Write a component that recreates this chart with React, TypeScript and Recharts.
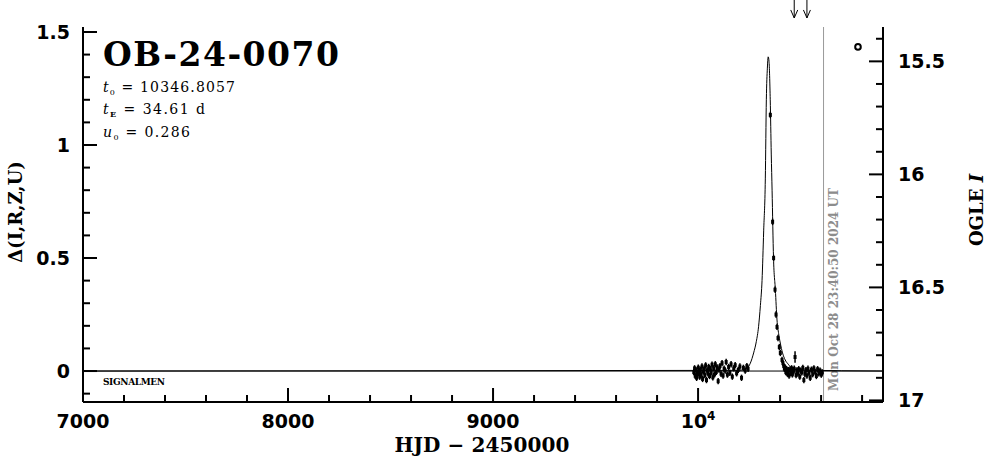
import React from "react";
import {
  ComposedChart,
  Line,
  Scatter,
  XAxis,
  YAxis,
  ErrorBar,
  ReferenceLine,
  ReferenceDot,
  Customized,
} from "recharts";

// axis ticks
const xTicks = [7000, 7200, 7400, 7600, 7800, 8000, 8200, 8400, 8600, 8800, 9000, 9200, 9400, 9600, 9800, 10000, 10200, 10400, 10600, 10800];
const xMajor = [7000, 8000, 9000, 10000];
const deltaTicks = [-0.1, 0, 0.1, 0.2, 0.3, 0.4, 0.5, 0.6, 0.7, 0.8, 0.9, 1, 1.1, 1.2, 1.3, 1.4, 1.5];
const deltaMajor = [0, 0.5, 1, 1.5];
const magTicks = [15.4, 15.5, 15.6, 15.7, 15.8, 15.9, 16, 16.1, 16.2, 16.3, 16.4, 16.5, 16.6, 16.7, 16.8, 16.9, 17];
const magMajor = [15.5, 16, 16.5, 17];

// model light curve
const modelDays = [7000, 10200, 10239, 10255, 10271, 10284, 10295, 10304, 10312, 10320, 10328, 10333, 10338, 10342, 10346, 10352, 10357, 10361, 10368, 10377, 10385, 10393, 10401, 10412, 10425, 10440, 10458, 10500, 10902];
const modelDelta = [0, 0.003, 0.013, 0.035, 0.08, 0.13, 0.196, 0.29, 0.4, 0.62, 0.85, 1.2, 1.34, 1.39, 1.37, 1.2, 0.96, 0.8, 0.5, 0.36, 0.226, 0.165, 0.124, 0.08, 0.049, 0.03, 0.013, 0.004, 0];

// observations: pre-event baseline
const preDays = [9979, 9983, 9986, 9990, 9993, 9997, 10001, 10004, 10008, 10011, 10015, 10019, 10022, 10026, 10030, 10033, 10037, 10041, 10044, 10048, 10052, 10056, 10060, 10064, 10068, 10072, 10076, 10080, 10084, 10089, 10093, 10098, 10102, 10107, 10112, 10117, 10122, 10127, 10132, 10137, 10143, 10149, 10155, 10161, 10167, 10174, 10181, 10188, 10196, 10204, 10212, 10221, 10230, 10238, 10244];
const preDelta = [-0.005, 0.012, -0.021, 0.004, -0.03, -0.012, 0.015, -0.008, -0.025, 0.006, -0.015, 0.02, -0.035, -0.002, 0.01, -0.018, 0.025, -0.04, 0.003, -0.01, 0.018, -0.022, 0.008, -0.006, 0.028, -0.028, 0.012, -0.015, 0.03, -0.004, 0.016, -0.045, 0.006, 0.022, -0.012, 0.035, -0.02, 0.01, 0.002, 0.04, -0.016, 0.018, -0.008, 0.03, -0.025, 0.012, 0.026, -0.01, 0.005, 0.02, -0.03, 0.014, 0.002, 0.022, 0.01];

// observations: falling branch
const fallDays = [10352.4, 10363.6, 10368.5, 10375.3, 10380.2, 10385, 10389.9, 10396.3, 10401.2, 10409.5];
const fallDelta = [1.133, 0.66, 0.5, 0.36, 0.25, 0.195, 0.146, 0.106, 0.08, 0.049];

// observations: post-event baseline
const postDays = [10414, 10418, 10421, 10425, 10428, 10432, 10436, 10440, 10444, 10448, 10452, 10456, 10460, 10465, 10469, 10473, 10478, 10482, 10487, 10491, 10496, 10501, 10506, 10511, 10516, 10521, 10526, 10531, 10536, 10541, 10547, 10553, 10559, 10565, 10571, 10577, 10583, 10589, 10595, 10601, 10606];
const postDelta = [0.035, 0.022, 0.01, 0.015, -0.005, 0.008, -0.012, 0.004, -0.02, 0.006, -0.008, 0.012, -0.015, -0.002, 0.01, 0.062, -0.018, 0.003, -0.01, 0.008, -0.025, 0.002, -0.006, 0.014, -0.04, -0.012, 0.004, -0.02, 0.01, -0.008, -0.03, 0.006, -0.014, 0.012, -0.004, -0.022, 0.008, -0.01, 0.002, -0.016, -0.006];
const postErr = postDelta.map((_, i) => (i === 15 ? 0.025 : 0.014));

const ogleDay = [10780];
const ogleMag = [15.436];
const arrowDays = [10469, 10531];
const nowDay = 10612;

const modelData = modelDays.map((d, i) => ({ d, v: modelDelta[i] }));
const obsData = [
  ...preDays.map((d, i) => ({ d, v: preDelta[i], err: 0.014 })),
  ...fallDays.map((d, i) => ({ d, v: fallDelta[i], err: 0.014 })),
  ...postDays.map((d, i) => ({ d, v: postDelta[i], err: postErr[i] })),
];
const ogleData = ogleDay.map((d, i) => ({ d, m: ogleMag[i] }));

const numFont = "'DejaVu Sans', sans-serif";
const serif = "'DejaVu Serif', serif";

const isMajor = (v: number, list: number[]) => list.some((m) => Math.abs(m - v) < 1e-6);

function BottomTick({ x, y, payload }: any) {
  const v = payload.value;
  const major = isMajor(v, xMajor);
  return (
    <g>
      <line x1={x} x2={x} y1={y} y2={y - (major ? 14 : 7)} stroke="#000" strokeWidth={2} />
      {major && (
        <text x={x} y={y + 26} textAnchor="middle" fontFamily={numFont} fontWeight="bold" fontSize={19} fill="#000">
          {v === 10000 ? (
            <>
              <tspan>10</tspan>
              <tspan fontSize={12} dy={-8}>4</tspan>
            </>
          ) : (
            v
          )}
        </text>
      )}
    </g>
  );
}

function TopTick({ x, y, payload }: any) {
  const major = isMajor(payload.value, xMajor);
  return <line x1={x} x2={x} y1={y} y2={y + (major ? 14 : 7)} stroke="#000" strokeWidth={2} />;
}

function LeftTick({ x, y, payload }: any) {
  const v = payload.value;
  const major = isMajor(v, deltaMajor);
  return (
    <g>
      <line x1={x} x2={x + (major ? 14 : 7)} y1={y} y2={y} stroke="#000" strokeWidth={2} />
      {major && (
        <text x={x - 13} y={y + 7} textAnchor="end" fontFamily={numFont} fontWeight="bold" fontSize={19} fill="#000">
          {v}
        </text>
      )}
    </g>
  );
}

function RightTick({ x, y, payload }: any) {
  const v = payload.value;
  const major = isMajor(v, magMajor);
  return (
    <g>
      <line x1={x} x2={x - (major ? 14 : 7)} y1={y} y2={y} stroke="#000" strokeWidth={2} />
      {major && (
        <text x={x + 15} y={y + 7} textAnchor="start" fontFamily={numFont} fontWeight="bold" fontSize={19} fill="#000">
          {v}
        </text>
      )}
    </g>
  );
}

const Arrow = ({ cx, cy }: any) => (
  <g>
    <line x1={cx} x2={cx} y1={cy - 18} y2={cy} stroke="#000" strokeWidth={1} />
    <polyline points={`${cx - 3.5},${cy - 8} ${cx},${cy} ${cx + 3.5},${cy - 8}`} fill="none" stroke="#000" strokeWidth={1} />
  </g>
);

const Texts = () => (
  <g>
    <text x={103} y={66} fontFamily={serif} fontWeight="bold" fontSize={33} textLength={236} lengthAdjust="spacing">
      OB-24-0070
    </text>
    <text x={103} y={92} fontFamily={serif} fontSize={14} textLength={132} lengthAdjust="spacing">
      <tspan fontStyle="italic">t</tspan>
      <tspan fontSize={8} dy={3}>0</tspan>
      <tspan dy={-3}> = 10346.8057</tspan>
    </text>
    <text x={103} y={114} fontFamily={serif} fontSize={14} textLength={102} lengthAdjust="spacing">
      <tspan fontStyle="italic">t</tspan>
      <tspan fontSize={8} dy={3} fontWeight="bold">E</tspan>
      <tspan dy={-3}> = 34.61 d</tspan>
    </text>
    <text x={103} y={137} fontFamily={serif} fontSize={14} textLength={87} lengthAdjust="spacing">
      <tspan fontStyle="italic">u</tspan>
      <tspan fontSize={8} dy={3}>0</tspan>
      <tspan dy={-3}> = 0.286</tspan>
    </text>
    <text x={103} y={385} fontFamily={serif} fontWeight="bold" fontSize={9} textLength={62} lengthAdjust="spacing">
      SIGNALMEN
    </text>
    <text
      transform="translate(838, 391) rotate(-90)"
      fontFamily={serif}
      fontWeight="bold"
      fontSize={12}
      fill="#8c8c8c"
      textLength={203}
      lengthAdjust="spacing"
    >
      Mon Oct 28 23:40:50 2024 UT
    </text>
    <text x={482} y={452} textAnchor="middle" fontFamily={serif} fontWeight="bold" fontSize={20} textLength={175} lengthAdjust="spacing">
      HJD − 2450000
    </text>
    <text transform="translate(22, 212) rotate(-90)" textAnchor="middle" fontFamily={serif} fontWeight="bold" fontSize={18}>
      Δ(I,R,Z,U)
    </text>
    <text transform="translate(983, 210) rotate(-90)" textAnchor="middle" fontFamily={serif} fontWeight="bold" fontSize={18}>
      OGLE <tspan fontStyle="italic">I</tspan>
    </text>
  </g>
);

export default function App() {
  return (
    <div style={{ position: "absolute", left: 0, top: 0, width: 986, height: 459, background: "#fff" }}>
      <ComposedChart width={986} height={459} margin={{ top: 27, right: 0, bottom: 0, left: 0 }}>
        <XAxis
          xAxisId="bottom"
          dataKey="d"
          type="number"
          domain={[7000, 10902]}
          allowDataOverflow
          ticks={xTicks}
          interval={0}
          tick={<BottomTick />}
          tickLine={false}
          tickSize={0}
          tickMargin={0}
          height={57}
          axisLine={{ stroke: "#000", strokeWidth: 2 }}
        />
        <XAxis
          xAxisId="top"
          orientation="top"
          dataKey="d"
          type="number"
          domain={[7000, 10902]}
          allowDataOverflow
          ticks={xTicks}
          interval={0}
          tick={<TopTick />}
          tickLine={false}
          tickSize={0}
          tickMargin={0}
          height={0}
          axisLine={{ stroke: "#000", strokeWidth: 2 }}
        />
        <YAxis
          yAxisId="left"
          type="number"
          domain={[-0.137, 1.522]}
          allowDataOverflow
          ticks={deltaTicks}
          interval={0}
          tick={<LeftTick />}
          tickLine={false}
          tickSize={0}
          tickMargin={0}
          width={83}
          axisLine={{ stroke: "#000", strokeWidth: 2 }}
        />
        <YAxis
          yAxisId="mag"
          orientation="right"
          type="number"
          reversed
          domain={[15.348, 17.007]}
          allowDataOverflow
          ticks={magTicks}
          interval={0}
          tick={<RightTick />}
          tickLine={false}
          tickSize={0}
          tickMargin={0}
          width={103}
          axisLine={{ stroke: "#000", strokeWidth: 2 }}
        />
        <ReferenceLine xAxisId="bottom" yAxisId="left" y={0} stroke="#000" strokeWidth={1} />
        <ReferenceLine xAxisId="bottom" yAxisId="left" x={nowDay} stroke="#999" strokeWidth={1} />
        <Line
          xAxisId="bottom"
          yAxisId="left"
          data={modelData}
          dataKey="v"
          type="monotone"
          stroke="#000"
          strokeWidth={1}
          dot={false}
          isAnimationActive={false}
        />
        <Scatter
          xAxisId="bottom"
          yAxisId="left"
          data={obsData}
          dataKey="v"
          isAnimationActive={false}
          shape={({ cx, cy }: any) => <rect x={cx - 1.5} y={cy - 2} width={3} height={4} fill="#000" />}
        >
          <ErrorBar dataKey="err" direction="y" width={0} stroke="#000" strokeWidth={1.5} isAnimationActive={false} />
        </Scatter>
        <Scatter
          xAxisId="top"
          yAxisId="mag"
          data={ogleData}
          dataKey="m"
          isAnimationActive={false}
          shape={({ cx, cy }: any) => <circle cx={cx} cy={cy} r={2.8} fill="none" stroke="#000" strokeWidth={2} />}
        />
        {arrowDays.map((d) => (
          <ReferenceDot key={d} xAxisId="bottom" yAxisId="left" x={d} y={1.562} ifOverflow="visible" shape={<Arrow />} />
        ))}
        <Customized component={Texts} />
      </ComposedChart>
    </div>
  );
}
